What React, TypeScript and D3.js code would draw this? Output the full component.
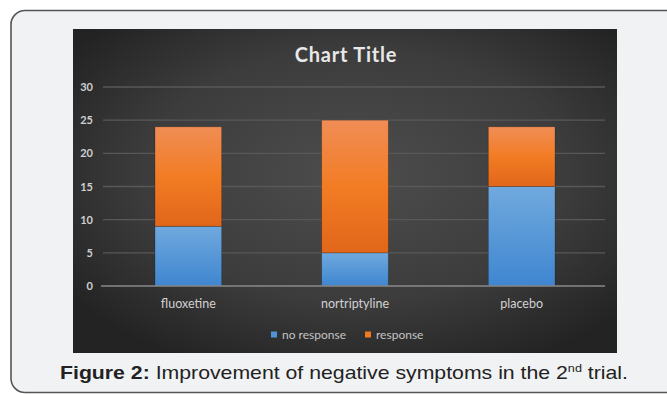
import React from "react";
import * as d3 from "d3";

const categories = ["fluoxetine", "nortriptyline", "placebo"];
const seriesNames = ["no response", "response"];
const noResponse = [9, 5, 15];
const response = [15, 20, 9];
const yTicks = [0, 5, 10, 15, 20, 25, 30];
const chartTitle = "Chart Title";

const W = 667;
const H = 394;

export default function App() {
  const rows = categories.map((c, i) => ({
    cat: c,
    "no response": noResponse[i],
    response: response[i],
  }));
  const stacked = d3.stack<any>().keys(seriesNames)(rows);

  const x = d3
    .scaleBand<string>()
    .domain(categories)
    .range([105, 605])
    .paddingInner(0.6)
    .paddingOuter(0.3);
  const y = d3.scaleLinear().domain([0, 30]).range([286, 87]);

  const fills = ["url(#gBlue)", "url(#gOrange)"];
  const legendColors = ["#4f93d8", "#ef7a22"];
  const font = "Lato, 'Open Sans', sans-serif";

  return (
    <svg
      width={W}
      height={H}
      style={{ position: "fixed", left: 0, top: 0, display: "block" }}
    >
      <defs>
        <radialGradient id="gBg" cx="52%" cy="45%" r="65%">
          <stop offset="0%" stopColor="#4d4d4d" />
          <stop offset="60%" stopColor="#3c3c3c" />
          <stop offset="100%" stopColor="#232323" />
        </radialGradient>
        <linearGradient id="gBlue" x1="0" y1="0" x2="0" y2="1">
          <stop offset="0%" stopColor="#70a9de" />
          <stop offset="100%" stopColor="#3f86d0" />
        </linearGradient>
        <linearGradient id="gOrange" x1="0" y1="0" x2="0" y2="1">
          <stop offset="0%" stopColor="#f08d55" />
          <stop offset="50%" stopColor="#f27c24" />
          <stop offset="100%" stopColor="#e1661a" />
        </linearGradient>
      </defs>

      <rect x={0} y={0} width={W} height={H} fill="#ffffff" />
      <rect
        x={11}
        y={10.5}
        width={670}
        height={382}
        rx={14}
        fill="#f1f2f4"
        stroke="#555"
        strokeWidth={1.6}
      />

      <rect x={73} y={29} width={544} height={324} fill="url(#gBg)" />

      <text
        x={346}
        y={62}
        textAnchor="middle"
        fill="#e8e8e8"
        fontFamily={font}
        fontWeight={700}
        fontSize={20}
        letterSpacing={0.8}
      >
        {chartTitle}
      </text>

      {yTicks.map((t) => (
        <g key={t}>
          {t !== 0 && (
            <line
              x1={103}
              x2={605}
              y1={y(t)}
              y2={y(t)}
              stroke="#585858"
              strokeWidth={1.3}
            />
          )}
          <text
            x={93}
            y={y(t) + 4}
            textAnchor="end"
            fill="#cfcfcf"
            fontFamily={font}
            fontWeight={700}
            fontSize={11}
          >
            {t}
          </text>
        </g>
      ))}

      {stacked.map((s, si) =>
        s.map((d, i) => (
          <rect
            key={si + "-" + i}
            x={x(categories[i])!}
            y={y(d[1])}
            width={x.bandwidth()}
            height={y(d[0]) - y(d[1])}
            fill={fills[si]}
            stroke="rgba(0,0,0,0.25)"
            strokeWidth={0.8}
          />
        ))
      )}

      <line x1={101} x2={605} y1={y(0)} y2={y(0)} stroke="#8a8a8a" strokeWidth={1.6} />

      {categories.map((c) => (
        <text
          key={c}
          x={x(c)! + x.bandwidth() / 2}
          y={307.5}
          textAnchor="middle"
          fill="#d2d2d2"
          fontFamily={font}
          fontSize={12.5}
        >
          {c}
        </text>
      ))}

      {seriesNames.map((n, i) => {
        const lx = [271, 365][i];
        return (
          <g key={n}>
            <rect x={lx} y={331.5} width={6} height={6} fill={legendColors[i]} />
            <text
              x={lx + 11}
              y={338.5}
              fill="#c4c4c4"
              fontFamily={font}
              fontSize={12}
            >
              {n}
            </text>
          </g>
        );
      })}

      <text
        x={60}
        y={379}
        fill="#222"
        fontFamily="'Liberation Sans', Arial, sans-serif"
        fontSize={18.5}
        textLength={568}
        lengthAdjust="spacingAndGlyphs"
      >
        <tspan fontWeight={700}>Figure 2:</tspan>
        <tspan> Improvement of negative symptoms in the 2</tspan>
        <tspan fontSize={11} dy={-7}>nd</tspan>
        <tspan dy={7}> trial.</tspan>
      </text>
    </svg>
  );
}
